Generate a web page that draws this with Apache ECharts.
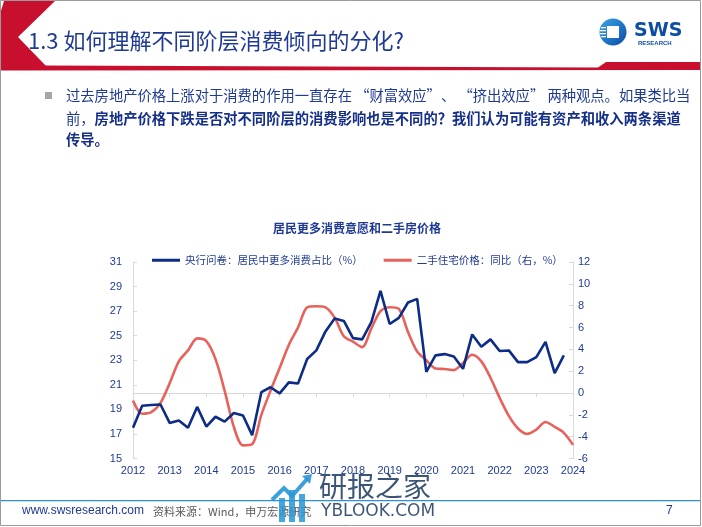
<!DOCTYPE html>
<html>
<head>
<meta charset="utf-8">
<script src="https://cdn.jsdelivr.net/npm/echarts@6/dist/echarts.min.js"></script>
<style>
html,body{margin:0;padding:0;background:#fff;}
#c{width:702px;height:527px;}
</style>
</head>
<body>
<div id="c"></div>
<script>
// ---- data ----
var quarters = [];
var years = [2012,2013,2014,2015,2016,2017,2018,2019,2020,2021,2022,2023,2024];
years.forEach(function(y){ ['Q1','Q2','Q3','Q4'].forEach(function(q){ if (y < 2024 || q === 'Q1') quarters.push(y + q); }); });

var consumeShare = [
  17.5, 19.3, 19.35, 19.4,
  17.9, 18.1, 17.5, 19.2,
  17.6, 18.4, 18.0, 18.7,
  18.5, 16.9, 20.4, 20.8,
  20.3, 21.2, 21.1, 23.1,
  23.8, 25.35, 26.4, 26.2,
  24.8, 24.7, 26.1, 28.65,
  25.95, 26.45, 27.7, 28.0,
  22.05, 23.4, 23.5, 23.3,
  22.3, 25.1, 24.1, 24.7,
  23.75, 23.8, 22.85, 22.85,
  23.25, 24.5, 21.95, 23.4
];
var housePriceYoY = [
  -0.7, -1.9, -1.75, -0.9,
  0.9, 2.9, 3.9, 5.0,
  4.75, 3.1, 0.2, -3.1,
  -4.8, -4.7, -2.0, 0.2,
  2.3, 4.4, 6.0, 7.85,
  7.95, 7.85, 6.9, 5.2,
  4.7, 4.2, 5.9, 7.5,
  7.85, 7.7, 5.6, 3.8,
  3.0, 2.25, 2.2, 2.1,
  2.75, 3.5, 2.9, 1.4,
  -0.45, -2.1, -3.25, -3.75,
  -3.35, -2.65, -3.1, -3.65,
  -4.75
];
var seriesNames = ['央行问卷：居民中更多消费占比（%）', '二手住宅价格：同比（右，%）'];
var chartTitle = '居民更多消费意愿和二手房价格';
var slideTitle = '1.3 如何理解不同阶层消费倾向的分化?';

var navy = '#0c2c86';
var red = '#e8625c';
var txtBlue = '#1f3a93';
var cjk = '"Noto Sans CJK SC", "Microsoft YaHei", sans-serif';

var chart = echarts.init(document.getElementById('c'), null, {renderer: 'canvas'});

var graphics = [
  // slide border
  {type:'rect', shape:{x:0.5,y:0.5,width:700,height:525}, style:{fill:null, stroke:'#9a9a9a', lineWidth:1}, z:1},
  // header left chevron
  {type:'polygon', shape:{points:[[4,1],[55,1],[18,37],[46,66],[0,66],[0,14]]}, style:{fill:'#c8102e'}},
  // header bottom band
  {type:'polygon', shape:{points:[[0,65.5],[40,65.5],[598,67.5],[606,62],[701,62],[701,70],[0,70.5]]}, style:{fill:'#c8102e'}},
  // title
  {type:'text', left:28, top:30, style:{text:slideTitle, font:'22px ' + cjk, fill:txtBlue}},
  // logo circle
  {type:'circle', shape:{cx:613, cy:32, r:13.5}, style:{fill:new echarts.graphic.LinearGradient(0,0,1,1,[{offset:0,color:'#39a6e8'},{offset:1,color:'#0a4aa6'}])}},
  {type:'rect', shape:{x:607,y:26,width:12,height:12}, style:{fill:'#ffffff'}},
  {type:'rect', shape:{x:601,y:27,width:5,height:1.3}, style:{fill:'#ffffff'}},
  {type:'rect', shape:{x:600,y:30,width:6,height:1.3}, style:{fill:'#ffffff'}},
  {type:'rect', shape:{x:600,y:33,width:6,height:1.3}, style:{fill:'#ffffff'}},
  {type:'rect', shape:{x:601,y:36,width:5,height:1.3}, style:{fill:'#ffffff'}},
  {type:'text', left:634, top:22, style:{text:'SWS', font:'bold 19px "DejaVu Sans", Arial, sans-serif', fill:'#0d4ea3'}},
  {type:'text', left:638, top:40, style:{text:'RESEARCH', font:'bold 6px Arial, sans-serif', fill:'#0d4ea3'}},
  // bullet
  {type:'rect', shape:{x:45,y:92,width:7,height:7}, style:{fill:'#a6a6a6'}},
  {type:'text', left:66, top:88, style:{text:'过去房地产价格上涨对于消费的作用一直存在 “财富效应”、 “挤出效应” 两种观点。如果类比当', font:'14.3px ' + cjk, fill:txtBlue}},
  {type:'text', left:66, top:111, style:{text:'{n|前，}{b|房地产价格下跌是否对不同阶层的消费影响也是不同的？我们认为可能有资产和收入两条渠道}',
     rich:{n:{font:'14.3px ' + cjk, fill:txtBlue}, b:{font:'bold 14.3px ' + cjk, fill:'#16308a'}}}},
  {type:'text', left:66, top:132, style:{text:'传导。', font:'bold 14.3px ' + cjk, fill:'#16308a'}},
  // footer
  {type:'rect', shape:{x:1,y:500,width:700,height:1.2}, style:{fill:'#2f8fd6'}},
  {type:'text', left:22, top:505, style:{text:'www.swsresearch.com', font:'12px Arial, "Liberation Sans", sans-serif', fill:txtBlue}},
  {type:'text', left:153, top:506, style:{text:'资料来源：Wind，申万宏源研究', font:'11px ' + cjk, fill:'#595959'}},
  {type:'text', left:666, top:505, style:{text:'7', font:'12px Arial, sans-serif', fill:txtBlue}},
  // watermark
  {type:'group', z:100, children:[
    {type:'rect', shape:{x:279,y:498,width:6,height:24}, style:{fill:'rgba(40,150,215,0.85)'}},
    {type:'rect', shape:{x:289,y:490,width:6,height:32}, style:{fill:'rgba(40,150,215,0.85)'}},
    {type:'rect', shape:{x:299,y:494,width:6,height:28}, style:{fill:'rgba(40,150,215,0.85)'}},
    {type:'polyline', shape:{points:[[272,500],[284,488],[292,496],[308,478]]}, style:{stroke:'rgba(40,150,215,0.9)', lineWidth:4, fill:null}},
    {type:'polygon', shape:{points:[[302,476],[312,474],[310,484]]}, style:{fill:'rgba(40,150,215,0.9)'}},
    {type:'text', left:319, top:472, style:{text:'研报之家', font:'28px ' + cjk, fill:'rgba(25,55,95,0.85)'}},
    {type:'text', left:321, top:503, style:{text:'YBLOOK.COM', font:'17px "DejaVu Sans", sans-serif', fill:'rgba(25,55,95,0.85)'}}
  ]}
];

var option = {
  backgroundColor: '#ffffff',
  animation: false,
  title: {text: chartTitle, left: 352, top: 217, textAlign: 'center',
          textStyle: {fontFamily: cjk, fontSize: 12, fontWeight: 'bold', color: txtBlue}},
  legend: {left: 147, top: 250, itemWidth: 28, itemHeight: 3, itemGap: 21, icon: 'rect',
           textStyle: {fontFamily: cjk, fontSize: 10.5, color: txtBlue},
           data: seriesNames},
  grid: {left: 133, right: 129, top: 262, bottom: 68.5},
  xAxis: {type: 'category', data: quarters, boundaryGap: false,
          axisLine: {lineStyle: {color: '#d9d9d9'}},
          axisTick: {interval: 3, length: 4, lineStyle: {color: '#d9d9d9'}},
          axisLabel: {interval: 3, margin: 7, fontSize: 11, color: txtBlue, fontFamily: 'Arial, sans-serif',
                      formatter: function(v){ return v.slice(0,4); }},
          splitLine: {show: false}},
  yAxis: [
    {type: 'value', min: 15, max: 31, interval: 2,
     axisLine: {show: true, lineStyle: {color: '#d9d9d9'}},
     axisTick: {show: true, inside: true, length: 4, lineStyle: {color: '#d9d9d9'}},
     axisLabel: {margin: 11, fontSize: 11, color: txtBlue, fontFamily: 'Arial, sans-serif'},
     splitLine: {show: false}},
    {type: 'value', min: -6, max: 12, interval: 2, position: 'right',
     axisLine: {show: true, lineStyle: {color: '#d9d9d9'}},
     axisTick: {show: true, inside: true, length: 4, lineStyle: {color: '#d9d9d9'}},
     axisLabel: {margin: 5, fontSize: 11, color: txtBlue, fontFamily: 'Arial, sans-serif'},
     splitLine: {show: false}}
  ],
  series: [
    {name: seriesNames[0], type: 'line', yAxisIndex: 0, data: consumeShare, showSymbol: false,
     lineStyle: {color: navy, width: 2.6}, itemStyle: {color: navy}, z: 3},
    {name: seriesNames[1], type: 'line', yAxisIndex: 1, data: housePriceYoY, showSymbol: false, smooth: 0.3,
     lineStyle: {color: red, width: 2.6}, itemStyle: {color: red}, z: 2}
  ],
  graphic: graphics
};
chart.setOption(option);
</script>
</body>
</html>
